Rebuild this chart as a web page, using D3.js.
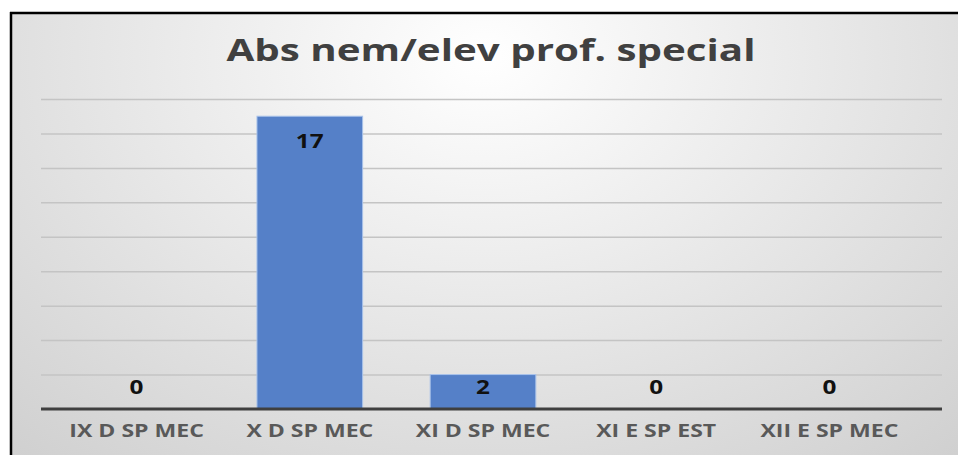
<!DOCTYPE html>
<html>
<head>
<meta charset="utf-8">
<script src="https://cdn.jsdelivr.net/npm/d3@7"></script>
<style>
  body { margin: 0; background: #fff; }
  svg { display: block; }
</style>
</head>
<body>
<svg id="chart"></svg>
<script>
// data
var categories = ["IX D SP MEC", "X D SP MEC", "XI D SP MEC", "XI E SP EST", "XII E SP MEC"];
var values = [0, 17, 2, 0, 0];
var yTicks = [0, 2, 4, 6, 8, 10, 12, 14, 16, 18];
var chartTitle = "Abs nem/elev prof. special";

var width = 958, height = 455;
var stretch = 1.28; // the reference text is drawn wide

var svg = d3.select("#chart")
    .attr("width", width)
    .attr("height", height);

// widen a text element horizontally
function widen(sel, k) {
    sel.each(function() {
        var w = this.getComputedTextLength();
        d3.select(this)
            .attr("textLength", w * k)
            .attr("lengthAdjust", "spacingAndGlyphs");
    });
}

// background gradient
var defs = svg.append("defs");
var grad = defs.append("radialGradient")
    .attr("id", "bg")
    .attr("cx", "50%").attr("cy", "10%")
    .attr("r", "75%")
    .attr("gradientTransform", "translate(0.5,0.1) scale(1,1.6) translate(-0.5,-0.1)");
grad.append("stop").attr("offset", "0%").attr("stop-color", "#ffffff");
grad.append("stop").attr("offset", "100%").attr("stop-color", "#d0d0d0");

svg.append("rect")
    .attr("x", 11).attr("y", 13)
    .attr("width", width - 11).attr("height", height - 13)
    .attr("fill", "url(#bg)");

// frame (top and left only visible)
svg.append("line")
    .attr("x1", 10).attr("x2", width)
    .attr("y1", 13).attr("y2", 13)
    .attr("stroke", "#000").attr("stroke-width", 2.5);
svg.append("line")
    .attr("x1", 11).attr("x2", 11)
    .attr("y1", 12).attr("y2", height)
    .attr("stroke", "#000").attr("stroke-width", 2.5);

// scales
var gridLeft = 41, gridRight = 942;

var xScale = d3.scaleBand()
    .domain(categories)
    .range([50, 916])
    .paddingInner(0.39)
    .paddingOuter(0.195);

var yScale = d3.scaleLinear()
    .domain([0, 18])
    .range([409, 99]);

// gridlines
var yAxis = d3.axisLeft(yScale)
    .tickValues(yTicks.slice(1))
    .tickSize(-(gridRight - gridLeft))
    .tickFormat("");

var gridG = svg.append("g")
    .attr("transform", "translate(" + gridLeft + ",0)")
    .call(yAxis);
gridG.select(".domain").remove();
gridG.selectAll(".tick line")
    .attr("stroke", "#c4c4c4")
    .attr("stroke-width", 1.5);

// title
svg.append("text")
    .attr("x", 491)
    .attr("y", 61)
    .attr("text-anchor", "middle")
    .style("font-family", "'Open Sans', sans-serif")
    .style("font-weight", "bold")
    .style("font-size", "31px")
    .attr("fill", "#404040")
    .text(chartTitle)
    .call(widen, 1.3);

// bars
svg.append("g").selectAll("rect")
    .data(values)
    .enter().append("rect")
    .attr("x", (d, i) => xScale(categories[i]))
    .attr("y", d => yScale(d))
    .attr("width", xScale.bandwidth())
    .attr("height", d => yScale(0) - yScale(d))
    .attr("fill", "#5580c8")
    .attr("stroke", "#a9c2ea")
    .attr("stroke-width", 1);

// x axis
var xAxis = d3.axisBottom(xScale)
    .tickSize(0)
    .tickPadding(15);

var xG = svg.append("g")
    .attr("transform", "translate(0," + yScale(0) + ")")
    .call(xAxis);
xG.select(".domain").remove();
xG.selectAll("text")
    .style("font-family", "'Open Sans', sans-serif")
    .style("font-weight", "bold")
    .style("font-size", "18px")
    .attr("fill", "#595959")
    .call(widen, stretch);

svg.append("line")
    .attr("x1", gridLeft).attr("x2", gridRight)
    .attr("y1", yScale(0)).attr("y2", yScale(0))
    .attr("stroke", "#3f3f3f")
    .attr("stroke-width", 3);

// data labels
svg.append("g").selectAll("text")
    .data(values)
    .enter().append("text")
    .attr("x", (d, i) => xScale(categories[i]) + xScale.bandwidth() / 2)
    .attr("y", d => Math.min(yScale(d) + 25, yScale(0) - 22))
    .attr("dy", "0.35em")
    .attr("text-anchor", "middle")
    .style("font-family", "'Open Sans', sans-serif")
    .style("font-weight", "bold")
    .style("font-size", "19px")
    .attr("fill", "#111")
    .text(d => d)
    .call(widen, stretch);
</script>
</body>
</html>
